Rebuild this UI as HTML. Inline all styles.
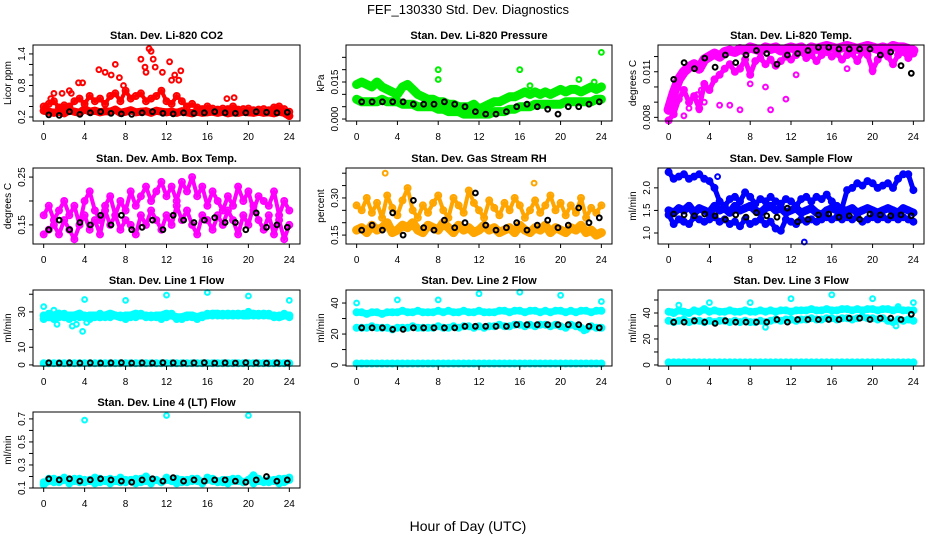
<!DOCTYPE html>
<html><head><meta charset="utf-8"><style>
body{margin:0;background:#fff;}
svg{display:block;font-family:"Liberation Sans",sans-serif;}
</style></head><body>
<svg id="chart" width="936" height="540" viewBox="0 0 936 540">
<rect width="936" height="540" fill="#fff"/>
<text x="468" y="14" text-anchor="middle" font-size="13">FEF_130330  Std. Dev. Diagnostics</text>
<text x="468" y="531" text-anchor="middle" font-size="14">Hour of Day (UTC)</text>
</svg>
<script>
// ---- data arrays ----
const hourTicks = [0,4,8,12,16,20,24];
const co2Low = [0.32,0.3,0.28,0.3,0.27,0.33,0.3,0.28,0.35,0.3,0.32,0.29,0.31,0.3,0.34,0.28,0.3,0.33,0.29,0.3,0.31,0.28,0.32,0.3,0.29,0.3,0.28,0.31,0.29,0.27,0.3,0.28,0.29,0.3,0.28,0.3,0.27,0.29,0.28,0.3,0.29,0.28,0.3,0.28,0.29,0.27,0.3,0.28,0.22];
const co2Mid = [0.4,0.45,0.5,0.38,0.42,0.4,0.5,0.55,0.45,0.6,0.5,0.55,0.45,0.6,0.65,0.5,0.7,0.55,0.6,0.65,0.5,0.55,0.6,0.7,0.5,0.45,0.6,0.5,0.4,0.45,0.38,0.35,0.4,0.36,0.34,0.36,0.35,0.4,0.34,0.35,0.36,0.33,0.34,0.35,0.33,0.38,0.4,0.35,0.3];
const co2HighHours = [0.7,1,1.8,2.5,2.7,3.4,3.8,5.4,6,6.6,7,7.4,7.8,9.5,9.9,10,10.3,10.5,10.7,10.9,11.6,12.3,12.5,12.8,13.2,13.4,17.9,18.6];
const co2HighVals = [0.55,0.65,0.65,0.7,0.65,0.85,0.85,1.1,1.05,1.0,1.2,0.95,0.8,1.3,1.15,1.05,1.5,1.45,1.3,1.15,1.05,1.25,0.9,1.0,0.9,1.08,0.55,0.57];
const co2Black = [0.24,0.23,0.3,0.25,0.28,0.3,0.27,0.26,0.25,0.28,0.3,0.27,0.26,0.28,0.27,0.28,0.3,0.28,0.27,0.28,0.3,0.29,0.28,0.29];

const presUpper = [0.014,0.015,0.014,0.013,0.015,0.013,0.012,0.011,0.010,0.013,0.014,0.012,0.010,0.009,0.008,0.008,0.007,0.007,0.006,0.006,0.005,0.005,0.005,0.006,0.004,0.005,0.006,0.007,0.007,0.008,0.009,0.009,0.010,0.011,0.010,0.011,0.010,0.011,0.010,0.011,0.012,0.011,0.012,0.012,0.011,0.012,0.013,0.012,0.013];
const presLower = [0.008,0.007,0.007,0.007,0.007,0.008,0.007,0.007,0.007,0.006,0.006,0.006,0.005,0.005,0.005,0.005,0.004,0.004,0.003,0.003,0.003,0.002,0.002,0.002,0.002,0.002,0.002,0.003,0.003,0.003,0.004,0.004,0.005,0.005,0.005,0.006,0.006,0.006,0.006,0.006,0.006,0.007,0.007,0.007,0.007,0.007,0.007,0.008,0.008];
const presOutHours = [8,8,16,24,23.3,21.8,17];
const presOutVals = [0.02,0.016,0.02,0.027,0.015,0.016,0.0135];
const presBlack = [0.007,0.007,0.007,0.007,0.007,0.006,0.006,0.006,0.007,0.006,0.005,0.003,0.002,0.002,0.003,0.005,0.006,0.005,0.004,0.002,0.005,0.005,0.006,0.007];

const tempTop = [0.0085,0.0096,0.0105,0.011,0.0113,0.0115,0.0112,0.0118,0.012,0.0122,0.012,0.0123,0.0124,0.0123,0.0125,0.0124,0.0126,0.0125,0.0124,0.0126,0.0125,0.0126,0.0124,0.0125,0.0126,0.0125,0.0126,0.0124,0.0126,0.0125,0.0126,0.0127,0.0126,0.0125,0.0126,0.0127,0.0126,0.0125,0.0126,0.0127,0.0126,0.0125,0.0126,0.0125,0.0127,0.0126,0.0126,0.0125,0.0124];
const tempMid = [0.0078,0.0082,0.0092,0.0098,0.009,0.0094,0.0086,0.0102,0.0098,0.0105,0.0108,0.0112,0.0115,0.011,0.0112,0.0118,0.0108,0.0117,0.0119,0.0115,0.0118,0.0114,0.0117,0.012,0.0118,0.0121,0.0123,0.0119,0.0121,0.0117,0.0121,0.0123,0.012,0.0122,0.0118,0.0121,0.0122,0.0117,0.0123,0.0121,0.0111,0.0118,0.0122,0.012,0.0115,0.0121,0.0123,0.0119,0.0122];
const tempOutHours = [0.3,1.5,2,3,3.5,5,6,7,10,11.5,12.5,2.8,3.2,8,9.5,17.5,20];
const tempOutVals = [0.0076,0.0081,0.0086,0.0085,0.009,0.0088,0.0088,0.0085,0.0085,0.0092,0.0108,0.0095,0.0098,0.0102,0.01,0.0112,0.011];
const tempBlack = [0.0105,0.0116,0.0112,0.0119,0.0113,0.0121,0.0116,0.0121,0.0124,0.0122,0.0115,0.0121,0.0122,0.0124,0.0126,0.0126,0.0125,0.0125,0.0125,0.0125,0.0121,0.0123,0.0114,0.0109];

const ambA = [0.17,0.19,0.16,0.18,0.2,0.17,0.19,0.15,0.2,0.22,0.18,0.16,0.19,0.21,0.17,0.2,0.18,0.22,0.19,0.21,0.23,0.2,0.22,0.24,0.21,0.23,0.2,0.24,0.22,0.25,0.21,0.23,0.19,0.22,0.2,0.18,0.21,0.19,0.23,0.2,0.22,0.18,0.21,0.2,0.19,0.22,0.17,0.2,0.18];
const ambB = [0.13,0.14,0.15,0.13,0.16,0.14,0.12,0.15,0.17,0.14,0.16,0.13,0.18,0.15,0.17,0.14,0.16,0.15,0.13,0.17,0.15,0.18,0.16,0.14,0.17,0.15,0.19,0.16,0.18,0.15,0.13,0.17,0.16,0.14,0.17,0.15,0.18,0.16,0.13,0.17,0.15,0.19,0.16,0.14,0.17,0.13,0.16,0.12,0.15];
const ambBlack = [0.14,0.16,0.14,0.155,0.15,0.17,0.15,0.17,0.14,0.145,0.16,0.14,0.17,0.16,0.155,0.16,0.165,0.155,0.155,0.14,0.175,0.145,0.15,0.145];

const rhLow = [0.17,0.18,0.16,0.19,0.17,0.18,0.2,0.16,0.17,0.19,0.18,0.2,0.17,0.16,0.19,0.18,0.17,0.2,0.18,0.16,0.19,0.17,0.18,0.16,0.17,0.19,0.17,0.18,0.16,0.17,0.18,0.16,0.19,0.17,0.16,0.18,0.17,0.19,0.16,0.18,0.17,0.16,0.18,0.17,0.19,0.16,0.17,0.15,0.16];
const rhHigh = [0.27,0.25,0.3,0.24,0.28,0.22,0.31,0.26,0.23,0.29,0.34,0.25,0.22,0.27,0.24,0.28,0.31,0.25,0.22,0.3,0.27,0.24,0.33,0.28,0.25,0.22,0.29,0.26,0.23,0.28,0.25,0.3,0.27,0.22,0.25,0.29,0.24,0.27,0.31,0.25,0.28,0.23,0.27,0.24,0.3,0.22,0.26,0.24,0.27];
const rhOutHours = [2.8,17.4];
const rhOutVals = [0.4,0.36];
const rhBlack = [0.17,0.19,0.17,0.24,0.15,0.29,0.18,0.17,0.21,0.18,0.2,0.32,0.19,0.17,0.18,0.2,0.17,0.19,0.21,0.18,0.19,0.26,0.2,0.22];

const flowUpper = [2.35,2.2,2.25,2.3,2.2,2.25,2.3,2.2,2.15,2.0,1.7,1.6,1.75,1.8,1.7,1.9,1.8,1.65,1.75,1.7,1.8,1.7,1.65,1.75,1.7,1.6,1.75,1.8,1.7,1.8,1.75,1.85,1.7,1.6,1.55,1.95,2.0,2.1,2.05,2.15,2.1,2.0,2.05,2.1,2.0,2.2,2.3,2.3,1.95];
const flowMid = [1.5,1.45,1.55,1.5,1.6,1.45,1.55,1.5,1.45,1.6,1.5,1.55,1.45,1.6,1.5,1.55,1.6,1.5,1.45,1.55,1.6,1.5,1.55,1.45,1.5,1.55,1.45,1.5,1.55,1.45,1.4,1.5,1.55,1.5,1.45,1.5,1.55,1.45,1.5,1.55,1.5,1.45,1.5,1.55,1.5,1.45,1.55,1.5,1.45];
const flowLow = [1.4,1.2,1.3,1.25,1.2,1.35,1.3,1.25,1.3,1.35,1.25,1.3,1.2,1.25,1.15,1.3,1.2,1.25,1.3,1.2,1.25,1.1,1.05,1.3,1.25,1.2,1.3,1.25,1.3,1.25,1.3,1.35,1.3,1.35,1.3,1.35,1.3,1.35,1.25,1.3,1.35,1.3,1.35,1.3,1.35,1.3,1.35,1.3,1.25];
const flowOutHours = [13.3,4.8];
const flowOutVals = [0.8,2.25];
const flowBlack = [1.42,1.4,1.38,1.42,1.38,1.3,1.4,1.35,1.45,1.38,1.35,1.55,1.25,1.3,1.4,1.42,1.35,1.38,1.3,1.42,1.4,1.38,1.4,1.38];

const l1High = [28,27,28,29,27,28,28,29,27,28,28,27,28,29,28,27,28,28,29,28,28,27,28,28,29,28,27,27,28,28,27,28,28,29,29,28,29,28,29,28,28,29,28,29,28,28,27,28,28];
const l1Mid = [26,29,26,27,29,26,27,27,28,26,27,29,27,27,28,28,26,27,27,29,27,28,27,26,27,29,26,26,27,27,26,27,29,28,28,29,28,29,28,29,30,28,29,28,29,27,28,29,27];
const l1Low = [1,1,1,1,1,1,1,1,1,1,1,1,1,1,1,1,1,1,1,1,1,1,1,1,1,1,1,1,1,1,1,1,1,1,1,1,1,1,1,1,1,1,1,1,1,1,1,1,1];
const l1OutHours = [0,4,8,12,16,20,24,1.3,2.8,3.8,1,4.2,3.2];
const l1OutVals = [33,37,36.5,39.5,41,39,36.5,23,22,19,31,24,23];
const l1Black = [1.2,1.1,1.2,1.1,1.2,1.1,1.2,1.3,1.1,1.2,1.1,1.3,1.2,1.1,1.2,1.3,1.1,1.2,1.1,1.3,1.2,1.1,1.2,1.1];

const l2High = [34,34,33,34,34,33,34,34,34,35,34,34,35,34,34,34,35,34,35,34,34,35,34,34,35,34,34,34,35,35,34,35,35,34,35,35,34,35,34,35,35,34,35,34,35,35,34,35,35];
const l2Mid = [24,24,24,25,24,24,24,23,24,24,24,25,24,24,24,24,25,24,24,25,24,25,25,24,25,24,25,25,26,25,25,26,26,25,26,25,26,26,25,26,25,24,26,25,24,23,25,24,24];
const l2Low = [1,1,1,1,1,1,1,1,1,1,1,1,1,1,1,1,1,1,1,1,1,1,1,1,1,1,1,1,1,1,1,1,1,1,1,1,1,1,1,1,1,1,1,1,1,1,1,1,1];
const l2OutHours = [0,4,8,12,16,20,24,22.3];
const l2OutVals = [40,42,42,46,47,45,41,22];
const l2Black = [24,24,24,23,23,24,24,24,24,24,25,25,25,25,25,26,26,26,26,26,26,26,25,24];

const l3High = [41,40,42,41,40,42,41,43,41,42,41,41,42,41,41,42,41,41,42,41,42,41,42,42,41,42,42,42,43,42,42,43,42,42,43,43,42,43,42,43,43,42,43,43,42,43,42,42,42];
const l3Mid = [34,33,34,35,33,34,34,33,34,33,34,34,33,34,33,34,33,33,34,33,34,35,34,35,35,34,35,35,36,35,35,36,36,35,36,36,35,36,37,36,36,35,36,34,33,35,34,35,34];
const l3Low = [2,2,2,2,2,2,2,2,2,2,2,2,2,2,2,2,2,2,2,2,2,2,2,2,2,2,2,2,2,2,2,2,2,2,2,2,2,2,2,2,2,2,2,2,2,2,2,2,2];
const l3OutHours = [1,4,8,12,16,20,22.5,24,9.5,22.3,0.3];
const l3OutVals = [46,48,48,51,54,51,45,48,29,30,41];
const l3Black = [33,33,34,33,32,34,33,33,33,33,35,33,35,35,35,35,35,36,36,35,36,36,35,39];

const l4Cyan = [0.13,0.16,0.18,0.15,0.17,0.16,0.18,0.15,0.17,0.16,0.19,0.15,0.17,0.18,0.16,0.15,0.17,0.16,0.18,0.15,0.2,0.16,0.17,0.15,0.17,0.16,0.18,0.15,0.17,0.16,0.18,0.15,0.17,0.18,0.16,0.15,0.17,0.16,0.18,0.15,0.17,0.21,0.16,0.15,0.17,0.16,0.18,0.15,0.17];
const l4Cyan2 = [0.15,0.18,0.15,0.17,0.19,0.14,0.16,0.18,0.15,0.17,0.14,0.18,0.16,0.14,0.17,0.19,0.15,0.17,0.14,0.18,0.16,0.14,0.17,0.15,0.19,0.16,0.14,0.17,0.15,0.18,0.16,0.14,0.19,0.16,0.15,0.17,0.14,0.18,0.16,0.15,0.17,0.14,0.18,0.16,0.15,0.17,0.14,0.18,0.19];
const l4OutHours = [4,12,20];
const l4OutVals = [0.69,0.73,0.73];
const l4Black = [0.18,0.17,0.18,0.16,0.17,0.18,0.17,0.16,0.15,0.17,0.18,0.16,0.19,0.16,0.17,0.16,0.17,0.17,0.16,0.15,0.17,0.2,0.16,0.17];

// ---- layout ----
const NS = "http://www.w3.org/2000/svg";
const svg = document.getElementById('chart');
function mk(tag, attrs, parent){const e=document.createElementNS(NS,tag);for(const k in attrs)e.setAttribute(k,attrs[k]);(parent||svg).appendChild(e);return e;}
const cols=[{l:33,r:300},{l:346,r:612},{l:658,r:924}];
const rows=[{t:45,b:121},{t:168,b:244},{t:290,b:366},{t:412,b:488}];
const halfHours = n => Array.from({length:n},(_,i)=>i*24/(n-1));
const blackHours = n => Array.from({length:n},(_,i)=>0.5+i*23.3/(n-1));

function panel(p){
  const c=cols[p.col], r=rows[p.row];
  const g=mk('g',{});
  
  
  const x0=c.l+(c.r-c.l)*0.04, x1=c.r-(c.r-c.l)*0.04;
  const xs=h=>x0+(x1-x0)*h/24;
  const ys=v=>r.b-(v-p.ymin)/(p.ymax-p.ymin)*(r.b-r.t);
  const t=mk('text',{x:(c.l+c.r)/2,y:r.t-6,'text-anchor':'middle','font-size':11,'font-weight':'bold'},g);
  t.textContent=p.title;
  
  
  // points
  const pts=mk('g',{fill:'none','stroke-width':1.6},g);
  
  
  p.series.forEach(s=>{
    const hrs=s.hours||halfHours(s.vals.length);
    if(s.band){
      const d=s.vals.map((v,i)=>xs(hrs[i]).toFixed(1)+','+Math.min(r.b-1,Math.max(r.t+1,ys(v))).toFixed(1)).join(' ');
      const pl=mk('polyline',{points:d,fill:'none',stroke:s.color,'stroke-width':s.band,'stroke-linejoin':'round','stroke-linecap':'round'},pts);
      
      
    }
    s.vals.forEach((v,i)=>{
      const cy=ys(v); if(cy<r.t-2||cy>r.b+2)return;
      const el=mk('circle',{cx:xs(hrs[i]).toFixed(1),cy:cy.toFixed(1),r:s.rad||2.4,stroke:s.color,'stroke-width':s.sw||1.6},pts);
      
      
    });
  });
  // box
  const box=mk('rect',{x:c.l,y:r.t,width:c.r-c.l,height:r.b-r.t,fill:'none',stroke:'#000','stroke-width':1},g);
  
  
  // x axis
  const xa=mk('g',{},g);
  
  
  mk('line',{x1:xs(0),x2:xs(24),y1:r.b,y2:r.b,stroke:'#000'},xa);
  hourTicks.forEach(h=>{
    mk('line',{x1:xs(h),x2:xs(h),y1:r.b,y2:r.b+4,stroke:'#000'},xa);
    const tl=mk('text',{x:xs(h),y:r.b+19,'text-anchor':'middle','font-size':10},xa);
    tl.textContent=h;
  });
  // y axis
  const ya=mk('g',{},g);
  
  
  mk('line',{x1:c.l,x2:c.l,y1:ys(p.ticks[0]),y2:ys(p.ticks[p.ticks.length-1]),stroke:'#000'},ya);
  p.ticks.forEach(v=>mk('line',{x1:c.l-4,x2:c.l,y1:ys(v),y2:ys(v),stroke:'#000'},ya));
  p.labels.forEach(v=>{
    const y=ys(v),x=c.l-8;
    const tl=mk('text',{x:x,y:y,'text-anchor':'middle','font-size':10,transform:`rotate(-90 ${x} ${y})`},ya);
    tl.textContent=p.fmt(v);
  });
  const yt=mk('text',{x:c.l-22,y:(r.t+r.b)/2,'text-anchor':'middle','font-size':10,transform:`rotate(-90 ${c.l-22} ${(r.t+r.b)/2})`},g);
  yt.textContent=p.unit;
  
  
}
const f=d=>v=>v.toFixed(d);
const RED='#ff0000',GRN='#00ee00',MAG='#ff00ff',ORG='#ffa500',BLU='#0000ff',CYN='#00ffff',BLK='#000';
panel({name:'co2',col:0,row:0,title:'Stan. Dev. Li-820 CO2',unit:'Licor ppm',ymin:0.124,ymax:1.57,ticks:[0.2,0.4,0.6,0.8,1.0,1.2,1.4],labels:[0.2,0.8,1.4],fmt:f(1),
 series:[{vals:co2Low,color:RED,rad:3,band:8,sw:2},{vals:co2Mid,color:RED,rad:3,band:4,sw:2},{vals:co2HighVals,hours:co2HighHours,color:RED,sw:2},{vals:co2Black,hours:blackHours(24),color:BLK,sw:2}]});
panel({name:'pressure',col:1,row:0,title:'Stan. Dev. Li-820 Pressure',unit:'kPa',ymin:-0.0008,ymax:0.030,ticks:[0,0.005,0.01,0.015,0.02,0.025],labels:[0,0.015],fmt:f(3),
 series:[{vals:presUpper,color:GRN,rad:3,band:9,sw:2},{vals:presLower,color:GRN,rad:3,band:9,sw:2},{vals:presOutVals,hours:presOutHours,color:GRN,sw:2},{vals:presBlack,hours:blackHours(24),color:BLK,sw:2}]});
panel({name:'temp',col:2,row:0,title:'Stan. Dev. Li-820 Temp.',unit:'degrees C',ymin:0.00776,ymax:0.01276,ticks:[0.008,0.009,0.010,0.011,0.012],labels:[0.008,0.011],fmt:f(3),
 series:[{vals:tempTop,color:MAG,rad:3,band:10,sw:2},{vals:tempMid,color:MAG,rad:3,band:5,sw:2},{vals:tempOutVals,hours:tempOutHours,color:MAG,sw:2},{vals:tempBlack,hours:blackHours(24),color:BLK,sw:2}]});
panel({name:'amb-box-temp',col:0,row:1,title:'Stan. Dev. Amb. Box Temp.',unit:'degrees C',ymin:0.110,ymax:0.269,ticks:[0.15,0.20,0.25],labels:[0.15,0.25],fmt:f(2),
 series:[{vals:ambA,color:MAG,rad:3,band:4,sw:2},{vals:ambB,color:MAG,rad:3,band:4,sw:2},{vals:ambBlack,hours:blackHours(24),color:BLK,sw:2}]});
panel({name:'gas-rh',col:1,row:1,title:'Stan. Dev. Gas Stream RH',unit:'percent',ymin:0.114,ymax:0.421,ticks:[0.15,0.2,0.25,0.3,0.35,0.4],labels:[0.15,0.30],fmt:f(2),
 series:[{vals:rhLow,color:ORG,rad:3.2,band:9,sw:2},{vals:rhHigh,color:ORG,rad:3,band:4,sw:2},{vals:rhOutVals,hours:rhOutHours,color:ORG,sw:2},{vals:rhBlack,hours:blackHours(24),color:BLK,sw:2}]});
panel({name:'sample-flow',col:2,row:1,title:'Stan. Dev. Sample Flow',unit:'ml/min',ymin:0.756,ymax:2.44,ticks:[1.0,1.5,2.0],labels:[1.0,1.5,2.0],fmt:f(1),
 series:[{vals:flowUpper,color:BLU,rad:3,band:5,sw:2},{vals:flowMid,color:BLU,rad:3,band:8,sw:2},{vals:flowLow,color:BLU,rad:3,band:5,sw:2},{vals:flowOutVals,hours:flowOutHours,color:BLU,sw:2},{vals:flowBlack,hours:blackHours(24),color:BLK,sw:2}]});
panel({name:'line1-flow',col:0,row:2,title:'Stan. Dev. Line 1 Flow',unit:'ml/min',ymin:-0.6,ymax:42.4,ticks:[0,10,20,30,40],labels:[0,10,30],fmt:f(0),
 series:[{vals:l1High,color:CYN,rad:3,band:8,sw:2},{vals:l1Mid,color:CYN,rad:3,band:5,sw:2},{vals:l1Low,color:CYN,rad:3,band:5,sw:2},{vals:l1OutVals,hours:l1OutHours,color:CYN,sw:2},{vals:l1Black,hours:blackHours(24),color:BLK,sw:2}]});
panel({name:'line2-flow',col:1,row:2,title:'Stan. Dev. Line 2 Flow',unit:'ml/min',ymin:-0.6,ymax:48.4,ticks:[0,10,20,30,40],labels:[0,20,40],fmt:f(0),
 series:[{vals:l2High,color:CYN,rad:3,band:7,sw:2},{vals:l2Mid,color:CYN,rad:3,band:6,sw:2},{vals:l2Low,color:CYN,rad:3,band:5,sw:2},{vals:l2OutVals,hours:l2OutHours,color:CYN,sw:2},{vals:l2Black,hours:blackHours(24),color:BLK,sw:2}]});
panel({name:'line3-flow',col:2,row:2,title:'Stan. Dev. Line 3 Flow',unit:'ml/min',ymin:-0.8,ymax:57.7,ticks:[0,10,20,30,40,50],labels:[0,20,40],fmt:f(0),
 series:[{vals:l3High,color:CYN,rad:3,band:7,sw:2},{vals:l3Mid,color:CYN,rad:3,band:6,sw:2},{vals:l3Low,color:CYN,rad:3,band:5,sw:2},{vals:l3OutVals,hours:l3OutHours,color:CYN,sw:2},{vals:l3Black,hours:blackHours(24),color:BLK,sw:2}]});
panel({name:'line4-flow',col:0,row:3,title:'Stan. Dev. Line 4 (LT) Flow',unit:'ml/min',ymin:0.1,ymax:0.76,ticks:[0.1,0.2,0.3,0.4,0.5,0.6,0.7],labels:[0.1,0.3,0.5,0.7],fmt:f(1),
 series:[{vals:l4Cyan,color:CYN,rad:3,band:7,sw:2},{vals:l4Cyan2,color:CYN,rad:3,band:5,sw:2},{vals:l4OutVals,hours:l4OutHours,color:CYN,sw:2},{vals:l4Black,hours:blackHours(24),color:BLK,sw:2}]});
</script>
</body></html>
